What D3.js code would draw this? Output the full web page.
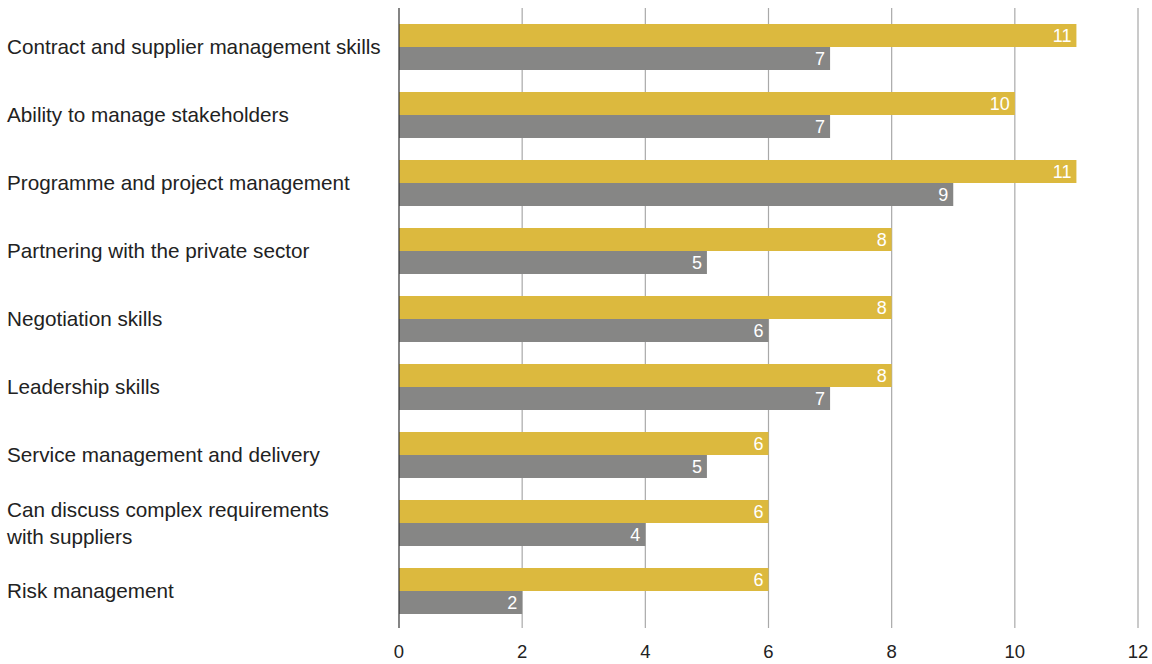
<!DOCTYPE html>
<html>
<head>
<meta charset="utf-8">
<script src="https://cdn.jsdelivr.net/npm/d3@7"></script>
<style>
  html, body { margin: 0; padding: 0; background: #fff; }
  svg { display: block; font-family: "Liberation Sans", "Helvetica Neue", Arial, sans-serif; }
</style>
</head>
<body>
<svg id="chart" width="1152" height="664"></svg>
<script>
// Skills, top to bottom
const categories = [
  ["Contract and supplier management skills"],
  ["Ability to manage stakeholders"],
  ["Programme and project management"],
  ["Partnering with the private sector"],
  ["Negotiation skills"],
  ["Leadership skills"],
  ["Service management and delivery"],
  ["Can discuss complex requirements", "with suppliers"],
  ["Risk management"]
];
const seriesNames = ["first", "second"];
const firstValues = [11, 10, 11, 8, 8, 8, 6, 6, 6];
const secondValues = [7, 7, 9, 5, 6, 7, 5, 4, 2];
const xTicks = [0, 2, 4, 6, 8, 10, 12];
const colors = ["#dcb93e", "#868685"];

const svg = d3.select("#chart");
const x0 = 399, x1 = 1138;
const x = d3.scaleLinear().domain([0, 12]).range([x0, x1]);

const keys = categories.map((c, i) => i);
const y = d3.scaleBand().domain(keys).range([13, 625])
  .paddingInner(22 / 68).paddingOuter(11 / 68);
const ySub = d3.scaleBand().domain(seriesNames).range([0, y.bandwidth()]);

// vertical gridlines
svg.append("g").selectAll("line").data(xTicks.filter(t => t > 0)).join("line")
  .attr("x1", d => x(d)).attr("x2", d => x(d))
  .attr("y1", 8).attr("y2", 628)
  .attr("stroke", d => d === 12 ? "#bdbdbd" : "#a9a9a9")
  .attr("stroke-width", d => d === 12 ? 1.6 : 1.2);

// bars
const rows = keys.map(i => ({ i, vals: [firstValues[i], secondValues[i]] }));
const grp = svg.append("g").selectAll("g").data(rows).join("g")
  .attr("transform", d => `translate(0,${y(d.i)})`);

grp.selectAll("rect").data(d => d.vals.map((v, k) => ({ v, k }))).join("rect")
  .attr("x", x(0))
  .attr("y", d => ySub(seriesNames[d.k]))
  .attr("width", d => x(d.v) - x(0))
  .attr("height", ySub.bandwidth())
  .attr("fill", d => colors[d.k]);

grp.selectAll("text.val").data(d => d.vals.map((v, k) => ({ v, k }))).join("text")
  .attr("class", "val")
  .attr("x", d => x(d.v) - 5)
  .attr("y", d => ySub(seriesNames[d.k]) + ySub.bandwidth() / 2)
  .attr("dy", "0.36em")
  .attr("text-anchor", "end")
  .attr("fill", "#fff")
  .attr("font-size", 18)
  .text(d => d.v);

// baseline axis
svg.append("line")
  .attr("x1", x(0)).attr("x2", x(0))
  .attr("y1", 8).attr("y2", 628)
  .attr("stroke", "#333").attr("stroke-width", 1.2);

// x tick labels
svg.append("g").selectAll("text").data(xTicks).join("text")
  .attr("x", d => x(d))
  .attr("y", 651)
  .attr("dy", "0.36em")
  .attr("text-anchor", "middle")
  .attr("fill", "#222")
  .attr("font-size", 18.5)
  .text(d => d);

// category labels
const fs = 20.7;
const lab = svg.append("g").selectAll("text").data(rows).join("text")
  .attr("x", 7)
  .attr("y", d => y(d.i) + y.bandwidth() / 2)
  .attr("fill", "#222")
  .attr("font-size", fs);
lab.each(function(d) {
  const lines = categories[d.i];
  const t = d3.select(this);
  const lh = 27;
  lines.forEach((s, j) => {
    t.append("tspan")
      .attr("x", 7)
      .attr("dy", j === 0 ? `${0.34 * fs - (lines.length - 1) * lh / 2}px` : `${lh}px`)
      .text(s);
  });
});
</script>
</body>
</html>
